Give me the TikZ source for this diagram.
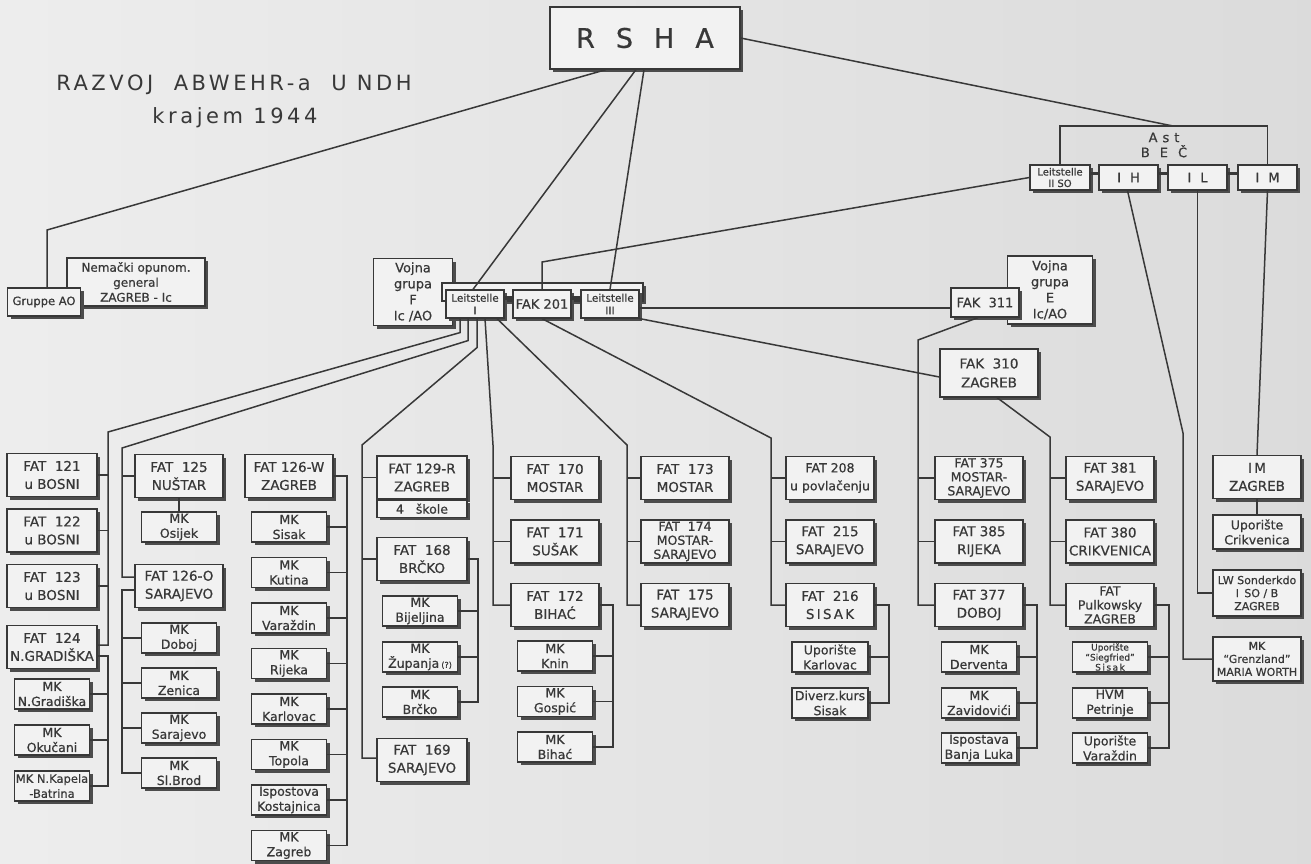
\documentclass[tikz,border=0pt]{standalone}
\usepackage{fontspec}
\setmainfont{DejaVu Sans}[FakeBold=0.6]
\newfontfamily\titlefont{DejaVu Sans}[LetterSpace=17]
\usetikzlibrary{positioning, shadows}
\definecolor{paperl}{gray}{0.93}
\definecolor{paperr}{gray}{0.86}
\definecolor{boxc}{gray}{0.95}
\definecolor{ink}{gray}{0.22}
\definecolor{shadowc}{gray}{0.30}

\begin{document}
\begin{tikzpicture}[x=1pt,y=-1pt,on grid,color=ink]
    \tikzstyle{box}=[draw,fill=boxc,line width=1.2pt,align=center,inner sep=1pt,
        general shadow={fill=shadowc,shadow xshift=3pt,shadow yshift=-3pt}]
    \tikzstyle{fat}=[box,minimum width=88pt,minimum height=43pt,font=\fontsize{13.5}{18}\selectfont]
    \tikzstyle{mk}=[box,minimum width=75pt,minimum height=30pt,font=\fontsize{12.5}{15}\selectfont]
    \tikzstyle{small}=[box,minimum width=58pt,minimum height=28pt,font=\fontsize{10.5}{12.5}\selectfont]
    \tikzstyle{wire}=[line width=1.5pt]
    \tikzstyle{bar}=[line width=3.5pt]

    \shade[left color=paperl,right color=paperr] (0,0) rectangle (1311,863);
    \useasboundingbox (0,0) rectangle (1311,863);

    % title
    \node[font=\titlefont\fontsize{21}{24}\selectfont] (title) at (234,85) {RAZVOJ\ \ ABWEHR-a\ \ U\ NDH};
    \node[font=\titlefont\fontsize{21}{24}\selectfont] (subtitle) at (235,118) {krajem 1944};

    % top level
    \node[box,minimum width=190pt,minimum height=62pt,font=\fontsize{27}{30}\selectfont] (rsha) at (645,38) {R\hspace{21pt}S\hspace{21pt}H\hspace{21pt}A};
    \node[box,minimum width=138pt,minimum height=48pt,font=\fontsize{12}{15}\selectfont] (nemacki) at (136,282) {Nemački opunom.\\general\\ZAGREB - Ic};
    \node[box,minimum width=73pt,minimum height=28pt,font=\fontsize{11.5}{13}\selectfont] (gruppe) at (44,302) {Gruppe AO};

    \node[box,minimum width=79pt,minimum height=67pt,font=\fontsize{13}{16}\selectfont] (vojnaf) at (413,292) {Vojna\\grupa\\F\\Ic /AO};
    \node[box,minimum width=201pt,minimum height=18pt] (lframe) at (542.5,292) {};
    \node[small] (lst1) at (475,304) {Leitstelle\\I};
    \node[small,font=\fontsize{13}{15}\selectfont] (fak201) at (542,304) {FAK 201};
    \node[small] (lst3) at (610,304) {Leitstelle\\III};

    % Ast Bec
    \node[small,minimum width=60pt,minimum height=25pt,font=\fontsize{10}{11.5}\selectfont] (lst2) at (1060,177.5) {Leitstelle\\II SO};
    \node[small,minimum width=59pt,minimum height=25pt,font=\fontsize{13}{14}\selectfont] (ih) at (1128.5,177.5) {I\hspace{9pt}H};
    \node[small,minimum width=59pt,minimum height=25pt,font=\fontsize{13}{14}\selectfont] (il) at (1197.5,177.5) {I\hspace{9pt}L};
    \node[small,minimum width=59pt,minimum height=25pt,font=\fontsize{13}{14}\selectfont] (im) at (1267.5,177.5) {I\hspace{9pt}M};
    \node[font=\fontsize{13}{15}\selectfont,align=center] (ast) at (1164,145) {A\hspace{5pt}s\hspace{5pt}t\\B\hspace{10pt}E\hspace{10pt}Č};
    \coordinate (astin) at (1173,126);

    \node[box,minimum width=85pt,minimum height=68pt,font=\fontsize{13}{16}\selectfont] (vojnae) at (1050,290) {Vojna\\grupa\\E\\Ic/AO};
    \node[box,minimum width=68pt,minimum height=29pt,font=\fontsize{13}{15}\selectfont] (fak311) at (985,302.5) {FAK\ \ 311};
    \node[box,minimum width=98pt,minimum height=48pt,font=\fontsize{13.5}{19}\selectfont] (fak310) at (989,373) {FAK\ \ 310\\ZAGREB};

    % column 1
    \node[fat,minimum width=90pt] (fat121) at (52,475) {FAT\ \ 121\\u BOSNI};
    \node[fat,minimum width=90pt,below=55.5pt of fat121] (fat122) {FAT\ \ 122\\u BOSNI};
    \node[fat,minimum width=90pt,below=55.5pt of fat122] (fat123) {FAT\ \ 123\\u BOSNI};
    \node[fat,minimum width=90pt,below=61pt of fat123] (fat124) {FAT\ \ 124\\N.GRADIŠKA};
    \node[mk,below=47pt of fat124] (mkngr) {MK\\N.Gradiška};
    \node[mk,below=46pt of mkngr] (mkoku) {MK\\Okučani};
    \node[mk,below=46pt of mkoku,font=\fontsize{11.5}{15}\selectfont] (mknkap) {MK N.Kapela\\-Batrina};

    % column 2
    \node[fat] (fat125) at (179,476) {FAT\ \ 125\\NUŠTAR};
    \node[mk,below=51pt of fat125] (mkosi) {MK\\Osijek};
    \node[fat] (fat126o) at (179,586) {FAT 126-O\\SARAJEVO};
    \node[mk,below=52pt of fat126o] (mkdob) {MK\\Doboj};
    \node[mk,below=45pt of mkdob] (mkzen) {MK\\Zenica};
    \node[mk,below=45pt of mkzen] (mksar) {MK\\Sarajevo};
    \node[mk,below=45pt of mksar] (mkslb) {MK\\Sl.Brod};

    % column 3
    \node[fat] (fat126w) at (289,476) {FAT 126-W\\ZAGREB};
    \node[mk,below=51pt of fat126w] (mksis) {MK\\Sisak};
    \node[mk,below=45.5pt of mksis] (mkkut) {MK\\Kutina};
    \node[mk,below=45.5pt of mkkut] (mkvar) {MK\\Varaždin};
    \node[mk,below=45.5pt of mkvar] (mkrij) {MK\\Rijeka};
    \node[mk,below=45.5pt of mkrij] (mkkar) {MK\\Karlovac};
    \node[mk,below=45.5pt of mkkar] (mktop) {MK\\Topola};
    \node[mk,below=45.5pt of mktop] (ispkos) {Ispostova\\Kostajnica};
    \node[mk,below=45.5pt of ispkos] (mkzag) {MK\\Zagreb};

    % column 4
    \node[fat,minimum width=90pt] (fat129) at (422,477.5) {FAT 129-R\\ZAGREB};
    \node[box,minimum width=90pt,minimum height=17pt,font=\fontsize{12.5}{14}\selectfont,anchor=north] (skole) at (fat129.south) {4\ \ \ škole};
    \node[fat,minimum width=90pt] (fat168) at (422,559) {FAT\ \ 168\\BRČKO};
    \node[mk] (mkbij) at (420,611) {MK\\Bijeljina};
    \node[mk,below=46pt of mkbij] (mkzup) {MK\\Županja\,{\fontsize{8}{8}\selectfont(?)}};
    \node[mk,below=45pt of mkzup] (mkbrc) {MK\\Brčko};
    \node[fat,minimum width=90pt] (fat169) at (422,760) {FAT\ \ 169\\SARAJEVO};

    % column 5
    \node[fat] (fat170) at (555,478) {FAT\ \ 170\\MOSTAR};
    \node[fat,below=63.5pt of fat170] (fat171) {FAT\ \ 171\\SUŠAK};
    \node[fat,below=63.5pt of fat171] (fat172) {FAT\ \ 172\\BIHAĆ};
    \node[mk,below=51pt of fat172] (mkknin) {MK\\Knin};
    \node[mk,below=45.5pt of mkknin] (mkgos) {MK\\Gospić};
    \node[mk,below=45.5pt of mkgos] (mkbihac) {MK\\Bihać};

    % column 6
    \node[fat] (fat173) at (685,478) {FAT\ \ 173\\MOSTAR};
    \node[fat,below=63.5pt of fat173,font=\fontsize{12.5}{14}\selectfont] (fat174) {FAT\ \ 174\\MOSTAR-\\SARAJEVO};
    \node[fat,below=63.5pt of fat174] (fat175) {FAT\ \ 175\\SARAJEVO};

    % column 7
    \node[fat,font=\fontsize{12.5}{18}\selectfont] (fat208) at (830,478) {FAT 208\\u povlačenju};
    \node[fat,below=63.5pt of fat208] (fat215) {FAT\ \ 215\\SARAJEVO};
    \node[fat,below=63.5pt of fat215] (fat216) {FAT\ \ 216\\S\,I\,S\,A\,K};
    \node[mk,minimum width=76pt,below=52pt of fat216] (upkar) {Uporište\\Karlovac};
    \node[mk,minimum width=76pt,below=46pt of upkar] (divsis) {Diverz.kurs\\Sisak};

    % column 8
    \node[fat,font=\fontsize{12.5}{14}\selectfont] (fat375) at (979,478) {FAT 375\\MOSTAR-\\SARAJEVO};
    \node[fat,below=63.5pt of fat375] (fat385) {FAT 385\\RIJEKA};
    \node[fat,below=63.5pt of fat385] (fat377) {FAT 377\\DOBOJ};
    \node[mk,below=52pt of fat377] (mkder) {MK\\Derventa};
    \node[mk,below=46pt of mkder] (mkzav) {MK\\Zavidovići};
    \node[mk,below=45pt of mkzav] (ispban) {Ispostava\\Banja Luka};

    % column 9
    \node[fat] (fat381) at (1110,478) {FAT 381\\SARAJEVO};
    \node[fat,below=63.5pt of fat381] (fat380) {FAT 380\\CRIKVENICA};
    \node[fat,below=63.5pt of fat380,font=\fontsize{12.5}{14}\selectfont] (fatpul) {FAT\\Pulkowsky\\ZAGREB};
    \node[mk,below=52pt of fatpul,font=\fontsize{9}{10}\selectfont] (upsieg) {Uporište\\``Siegfried''\\S\,i\,s\,a\,k};
    \node[mk,below=46pt of upsieg] (hvm) {HVM\\Petrinje};
    \node[mk,below=45pt of hvm] (upvar) {Uporište\\Varaždin};

    % column 10
    \node[fat] (imzag) at (1257,477) {I\,M\\ZAGREB};
    \node[mk,minimum width=88pt,minimum height=34pt] (upcri) at (1257,532) {Uporište\\Crikvenica};
    \node[mk,minimum width=88pt,minimum height=46pt,font=\fontsize{11}{13}\selectfont] (lwson) at (1257,593) {LW Sonderkdo\\I\, SO / B\\ZAGREB};
    \node[mk,minimum width=88pt,minimum height=44pt,font=\fontsize{11}{13}\selectfont] (mkgren) at (1257,659) {MK\\``Grenzland''\\MARIA WORTH};

    % bend points
    \coordinate (gA) at (47,230);
    \coordinate (f201b) at (542,262);
    \coordinate (t1) at (108,432);
    \coordinate (t2) at (122,448);
    \coordinate (t4) at (362,445);
    \coordinate (t5) at (493,445);
    \coordinate (t6) at (627,445);
    \coordinate (t7) at (771,438);
    \coordinate (t8) at (918,340);
    \coordinate (t9) at (1050,437);
    \coordinate (tih) at (1183,433);
    \coordinate (r3) at (347,0);
    \coordinate (r4) at (478,0);
    \coordinate (r5) at (613,0);
    \coordinate (r7) at (889,0);
    \coordinate (r8) at (1037,0);
    \coordinate (r9) at (1169,0);

    % links between the boxes
    \foreach \a/\b in {lst1/fak201,fak201/lst3}
        \draw[bar] ([yshift=6pt]\a.east) -- ([yshift=6pt]\b.west);
    \foreach \a/\b in {lst2/ih,ih/il,il/im}
        \draw[bar] ([yshift=4pt]\a.east) -- ([yshift=4pt]\b.west);

    % from RSHA
    \draw[wire] ([xshift=-39pt]rsha.south) -- (gA) -- (gA |- gruppe.north);
    \draw[wire] ([xshift=-9pt]rsha.south) -- ([xshift=-2pt]lst1.north);
    \draw[wire] ([xshift=-1pt]rsha.south) -- (lst3.north);
    \draw[wire] (rsha.east) -- (astin);
    \draw[wire] (lst2.north) |- (astin) -| (im.north);

    \draw[wire] (lst2.west) -- (f201b) -- (fak201.north);
    \draw[wire] ([yshift=-4pt]lst3.east) -- ([yshift=-4pt]lst3.east -| fak311.west);
    \draw[wire] (lst3.south east) -- ([yshift=-4pt]fak310.west);

    % trunks
    \draw[wire] ([xshift=-15pt]lst1.south) -- ++(0,14) -- (t1) |- ([yshift=2pt]fat124.east);
    \draw[wire] ([xshift=-7pt]lst1.south) -- ++(0,22) -- (t2) |- ([yshift=9pt]fat126o.west);
    \draw[wire] ([xshift=2pt]lst1.south) -- ++(0,29) -- (t4) |- ([yshift=2pt]fat169.west);
    \draw[wire] ([xshift=10pt]lst1.south) -- (t5) |- (fat172.west);
    \draw[wire] ([xshift=22pt]lst1.south) -- (t6) |- (fat175.west);
    \draw[wire] (fak201.south) -- (t7) |- (fat216.west);
    \draw[wire] ([xshift=-7pt]fak311.south) -- (t8) |- (fat377.west);
    \draw[wire] ([xshift=8pt]fak310.south) -- (t9) |- (fatpul.west);
    \draw[wire] ([xshift=-1pt]ih.south) -- (tih) |- (mkgren.west);
    \draw[wire] (il.south) |- (lwson.west);
    \draw[wire] (im.south) -- (imzag.north);
    \draw[wire] (imzag.south) -- (upcri.north);
    \draw[wire] (fat125.south) -- (mkosi.north);

    % ties
    \foreach \b in {fat121,fat122,fat123}
        \draw[wire] (\b.east) -- (\b.east -| t1);
    \draw[wire] ([yshift=-9pt]fat124.east) -| (mknkap.east -| t1) -- (mknkap.east);
    \foreach \b in {mkngr,mkoku}
        \draw[wire] (\b.east) -- (\b.east -| t1);

    \draw[wire] (fat125.west) -- (fat125.west -| t2);
    \draw[wire] ([yshift=-4pt]fat126o.west) -| (mkslb.west -| t2) -- (mkslb.west);
    \foreach \b in {mkdob,mkzen,mksar}
        \draw[wire] (\b.west) -- (\b.west -| t2);

    \draw[wire] (fat126w.east) -| (mkzag.east -| r3) -- (mkzag.east);
    \foreach \b in {mksis,mkkut,mkvar,mkrij,mkkar,mktop,ispkos}
        \draw[wire] (\b.east) -- (\b.east -| r3);

    \foreach \b in {fat129,fat168}
        \draw[wire] (\b.west) -- (\b.west -| t4);
    \draw[wire] (fat168.east) -| (mkbrc.east -| r4) -- (mkbrc.east);
    \foreach \b in {mkbij,mkzup}
        \draw[wire] (\b.east) -- (\b.east -| r4);

    \foreach \b in {fat170,fat171}
        \draw[wire] (\b.west) -- (\b.west -| t5);
    \draw[wire] (fat172.east) -| (mkbihac.east -| r5) -- (mkbihac.east);
    \foreach \b in {mkknin,mkgos}
        \draw[wire] (\b.east) -- (\b.east -| r5);

    \foreach \b in {fat173,fat174}
        \draw[wire] (\b.west) -- (\b.west -| t6);

    \foreach \b in {fat208,fat215}
        \draw[wire] (\b.west) -- (\b.west -| t7);
    \draw[wire] (fat216.east) -| (divsis.east -| r7) -- (divsis.east);
    \draw[wire] (upkar.east) -- (upkar.east -| r7);

    \foreach \b in {fat375,fat385}
        \draw[wire] (\b.west) -- (\b.west -| t8);
    \draw[wire] (fat377.east) -| (ispban.east -| r8) -- (ispban.east);
    \foreach \b in {mkder,mkzav}
        \draw[wire] (\b.east) -- (\b.east -| r8);

    \foreach \b in {fat381,fat380}
        \draw[wire] (\b.west) -- (\b.west -| t9);
    \draw[wire] (fatpul.east) -| (upvar.east -| r9) -- (upvar.east);
    \foreach \b in {upsieg,hvm}
        \draw[wire] (\b.east) -- (\b.east -| r9);

\end{tikzpicture}
\end{document}
